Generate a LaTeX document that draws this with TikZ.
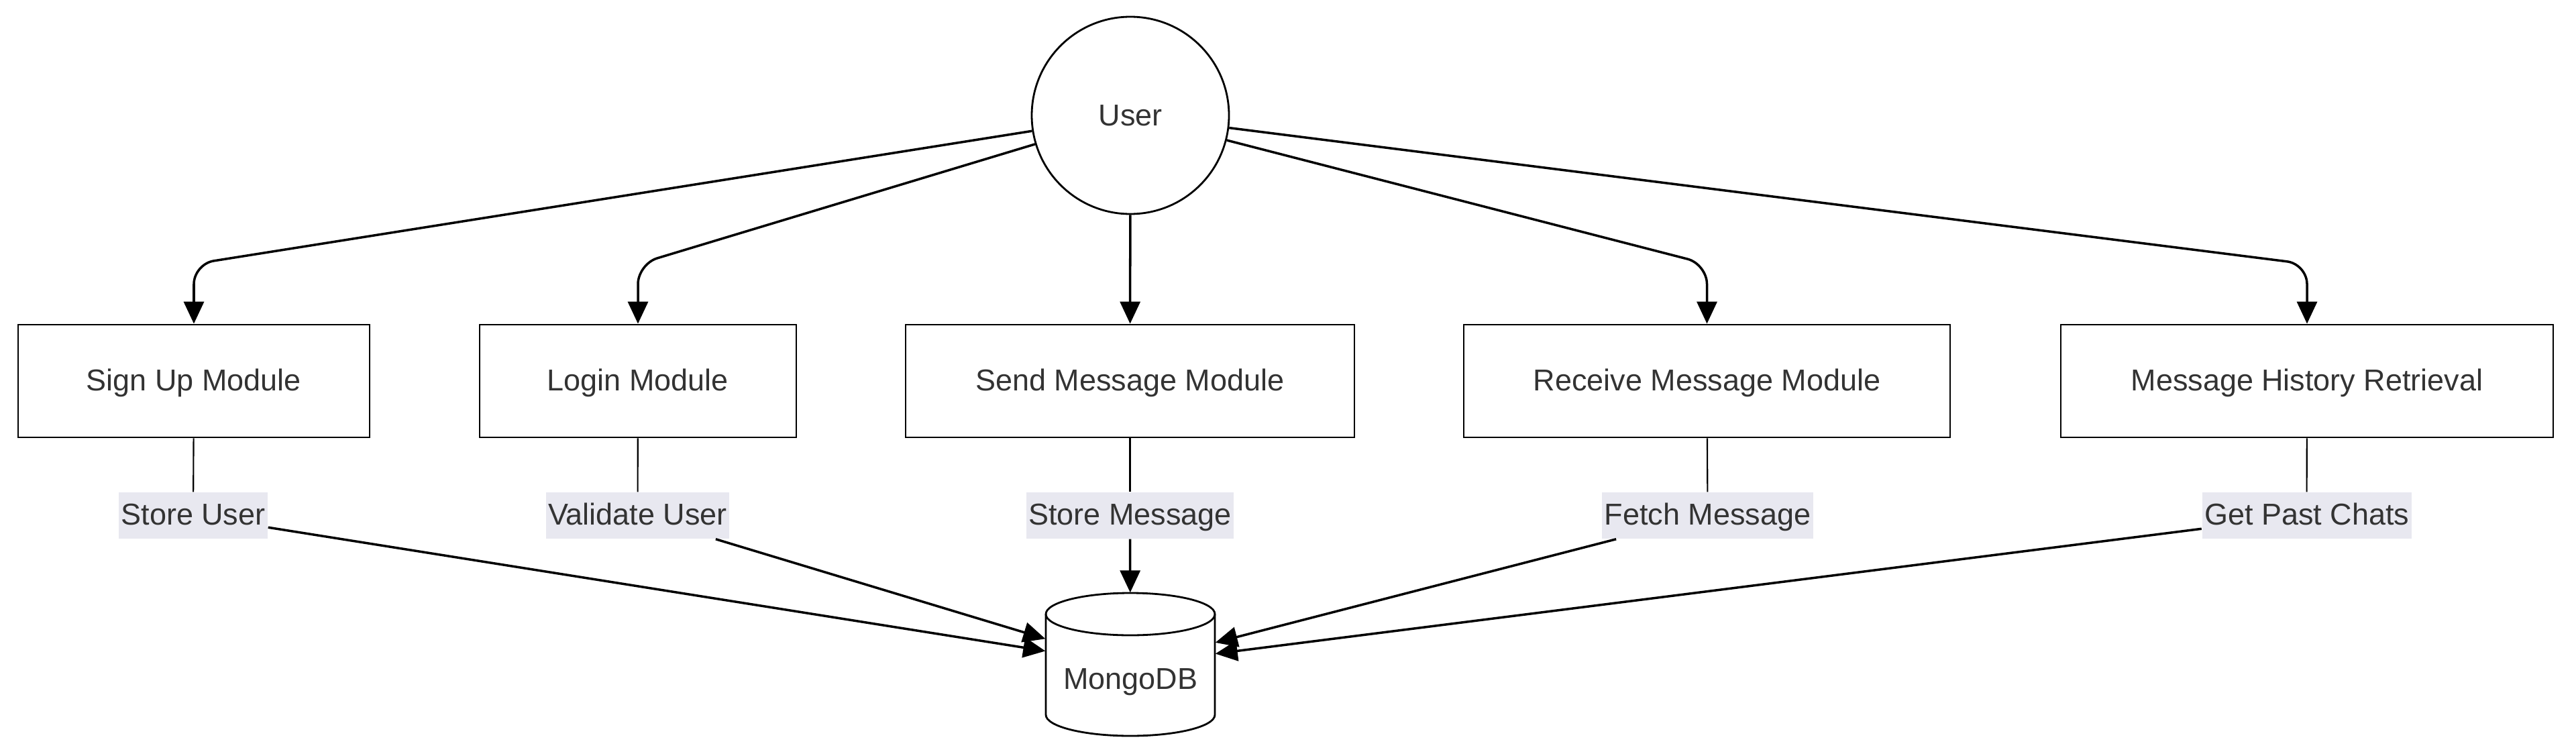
\documentclass[tikz,border=0pt]{standalone}
\usepackage{fontspec}
\setmainfont{Liberation Sans}
\usetikzlibrary{arrows.meta,positioning}
\definecolor{labelgrey}{RGB}{232,232,240}
\definecolor{textgrey}{RGB}{51,51,51}

\begin{document}
\begin{tikzpicture}[x=1cm,y=-1cm,
	module/.style={draw=black,line width=0.8pt,minimum height=1.68cm,inner sep=0pt,
		text height=0.3cm,text depth=0.02cm,font=\fontsize{12.8}{15}\selectfont,text=textgrey},
	edgelabel/.style={fill=labelgrey,minimum height=0.69cm,inner xsep=1pt,inner ysep=0pt,
		text height=0.3cm,text depth=0.03cm,font=\fontsize{12.8}{15}\selectfont,text=textgrey},
	flow/.style={line width=1pt,-{Triangle[length=3.3mm,width=3mm]}},
	link/.style={line width=0.6pt}]
	% Fix the page size.
	\useasboundingbox (0,0) rectangle (38.4,11.26);

	% The user on top.
	\node (user) at (16.85,1.72) [circle,draw,line width=0.8pt,minimum size=2.94cm,inner sep=0pt,
		font=\fontsize{12.8}{15}\selectfont,text=textgrey] {User};

	% The five modules.
	\node (signup) at (2.89,5.68) [module,minimum width=5.24cm] {Sign Up Module};
	\node (login) at (9.51,5.68) [module,minimum width=4.72cm] {Login Module};
	\node (send) at (16.845,5.68) [module,minimum width=6.69cm] {Send Message Module};
	\node (receive) at (25.445,5.68) [module,minimum width=7.25cm] {Receive Message Module};
	\node (history) at (34.39,5.68) [module,minimum width=7.34cm] {Message History Retrieval};

	% The database: an empty node holds the name, the cylinder is drawn round it.
	\node (mongo) at (16.85,9.905) [minimum width=2.52cm,minimum height=2.13cm,inner sep=0pt] {};
	\draw [line width=0.8pt] (15.59,9.155) -- (15.59,10.655)
		arc [start angle=180,end angle=0,x radius=1.26,y radius=0.315] -- (18.11,9.155);
	\draw [line width=0.8pt] (16.85,9.155) ellipse [x radius=1.26,y radius=0.315];
	\node (mongotext) at (16.85,10.17) [font=\fontsize{12.8}{15}\selectfont,text=textgrey] {MongoDB};

	% Labels on the way down.
	\node (storeuser) at (2.88,7.685) [edgelabel] {Store User};
	\node (validate) at (9.505,7.685) [edgelabel] {Validate User};
	\node (storemsg) at (16.845,7.685) [edgelabel] {Store Message};
	\node (fetch) at (25.455,7.685) [edgelabel] {Fetch Message};
	\node (pastchats) at (34.385,7.685) [edgelabel] {Get Past Chats};

	% User to the modules.
	\draw [flow,rounded corners=0.3cm] (user) -- ([yshift=0.89cm]signup.north) -- (signup);
	\draw [flow,rounded corners=0.3cm] (user) -- ([yshift=0.89cm]login.north) -- (login);
	\draw [flow] (user) -- (send);
	\draw [flow,rounded corners=0.3cm] (user) -- ([yshift=0.89cm]receive.north) -- (receive);
	\draw [flow,rounded corners=0.3cm] (user) -- ([yshift=0.89cm]history.north) -- (history);

	% Modules to the database.
	\draw [link] (signup) -- (storeuser);
	\draw [flow] (storeuser) -- (mongo);
	\draw [link] (login) -- (validate);
	\draw [flow] (validate) -- (mongo);
	\draw [link] (send) -- (storemsg);
	\draw [flow] (storemsg) -- (mongo);
	\draw [link] (receive) -- (fetch);
	\draw [flow] (fetch) -- (mongo);
	\draw [link] (history) -- (pastchats);
	\draw [flow] (pastchats) -- (mongo);
\end{tikzpicture}
\end{document}
